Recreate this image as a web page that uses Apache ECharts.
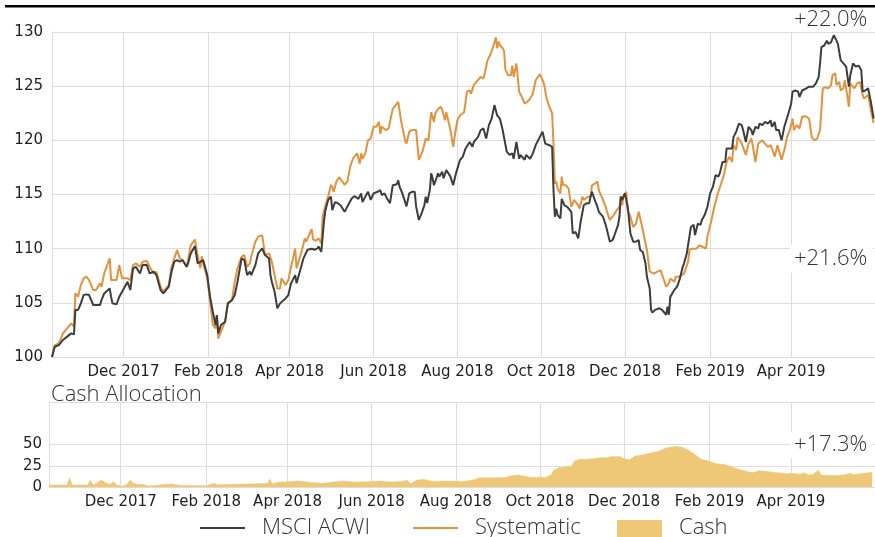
<!DOCTYPE html>
<html>
<head>
<meta charset="utf-8">
<script src="https://cdn.jsdelivr.net/npm/echarts@6/dist/echarts.min.js"></script>
<style>
  html, body { margin: 0; padding: 0; background: #fff; }
  #chart { width: 875px; height: 537px; }
</style>
</head>
<body>
<div id="chart"></div>
<script>
// Index levels (start = 100) for the benchmark and the systematic strategy,
// and the strategy's cash allocation in percent.
const msciSeries = [
  ['2017-10-10',100.0],['2017-10-12',100.95],['2017-10-15',101.1],['2017-10-18',101.57],['2017-10-21',101.88],
  ['2017-10-24',102.18],['2017-10-26',102.09],['2017-10-27',104.34],['2017-10-29',104.34],['2017-10-31',104.95],
  ['2017-11-02',105.72],['2017-11-04',105.78],['2017-11-06',105.72],['2017-11-09',104.8],['2017-11-11',104.8],
  ['2017-11-14',104.8],['2017-11-15',105.26],['2017-11-17',105.87],['2017-11-21',106.33],['2017-11-22',105.57],
  ['2017-11-23',104.95],['2017-11-26',104.87],['2017-11-28',105.57],['2017-11-30',106.03],['2017-12-04',106.95],
  ['2017-12-06',106.18],['2017-12-08',108.18],['2017-12-10',108.33],['2017-12-13',107.72],['2017-12-15',108.49],
  ['2017-12-18',108.49],['2017-12-20',107.72],['2017-12-23',107.87],['2017-12-25',107.56],['2017-12-28',106.18],
  ['2017-12-30',105.87],['2018-01-03',106.49],['2018-01-05',107.87],['2018-01-07',108.79],['2018-01-09',108.95],
  ['2018-01-11',108.79],['2018-01-13',108.95],['2018-01-16',108.33],['2018-01-17',108.64],['2018-01-19',109.56],
  ['2018-01-21',110.02],['2018-01-22',110.24],['2018-01-24',108.64],['2018-01-26',108.79],['2018-01-28',108.95],
  ['2018-01-31',107.56],['2018-02-02',105.6],['2018-02-04',104.2],['2018-02-06',102.95],['2018-02-07',103.87],
  ['2018-02-08',102.18],['2018-02-09',102.18],['2018-02-10',102.95],['2018-02-13',103.26],['2018-02-15',104.95],
  ['2018-02-18',105.26],['2018-02-20',105.72],['2018-02-22',106.95],['2018-02-25',109.1],['2018-02-27',108.95],
  ['2018-03-01',107.56],['2018-03-03',107.87],['2018-03-04',107.56],['2018-03-07',108.49],['2018-03-09',109.56],
  ['2018-03-12',110.02],['2018-03-14',109.41],['2018-03-17',109.1],['2018-03-18',107.56],['2018-03-19',106.95],
  ['2018-03-21',106.03],['2018-03-23',104.49],['2018-03-25',104.95],['2018-03-26',105.1],['2018-03-29',105.41],
  ['2018-03-31',105.72],['2018-04-02',106.8],['2018-04-05',107.56],['2018-04-06',106.8],['2018-04-07',106.95],
  ['2018-04-11',109.1],['2018-04-12',109.25],['2018-04-14',109.9],['2018-04-17',110.0],['2018-04-19',109.9],
  ['2018-04-21',110.0],['2018-04-22',110.2],['2018-04-24',109.7],['2018-04-26',112.6],['2018-04-27',113.55],
  ['2018-04-29',114.5],['2018-05-01',114.8],['2018-05-02',113.55],['2018-05-04',114.3],['2018-05-06',114.2],
  ['2018-05-08',114.0],['2018-05-11',113.4],['2018-05-13',113.9],['2018-05-16',114.6],['2018-05-18',114.85],
  ['2018-05-21',114.6],['2018-05-23',115.1],['2018-05-24',114.3],['2018-05-26',114.8],['2018-05-28',115.25],
  ['2018-05-30',114.5],['2018-06-01',115.1],['2018-06-04',115.25],['2018-06-06',115.4],['2018-06-07',114.95],
  ['2018-06-09',115.1],['2018-06-11',114.6],['2018-06-13',114.2],['2018-06-15',115.85],['2018-06-18',115.95],
  ['2018-06-19',116.3],['2018-06-20',115.7],['2018-06-22',115.1],['2018-06-25',113.9],['2018-06-27',115.1],
  ['2018-06-29',115.25],['2018-07-01',115.25],['2018-07-02',113.9],['2018-07-04',112.65],['2018-07-06',113.25],
  ['2018-07-08',114.0],['2018-07-09',114.8],['2018-07-10',114.2],['2018-07-12',115.4],['2018-07-13',116.95],
  ['2018-07-14',116.5],['2018-07-15',115.85],['2018-07-18',116.95],['2018-07-19',116.65],['2018-07-21',117.1],
  ['2018-07-22',116.5],['2018-07-24',117.25],['2018-07-27',116.65],['2018-07-29',115.85],['2018-07-31',116.95],
  ['2018-08-03',118.2],['2018-08-05',118.5],['2018-08-06',118.5],['2018-08-07',119.25],['2018-08-10',119.85],
  ['2018-08-12',119.4],['2018-08-13',119.85],['2018-08-16',120.3],['2018-08-18',120.95],['2018-08-20',121.1],
  ['2018-08-22',120.17],['2018-08-24',121.4],['2018-08-26',122.0],['2018-08-28',123.25],['2018-08-29',123.3],
  ['2018-08-30',122.3],['2018-09-01',122.0],['2018-09-03',120.95],['2018-09-06',118.95],['2018-09-08',118.65],
  ['2018-09-10',118.8],['2018-09-11',118.3],['2018-09-13',119.85],['2018-09-15',118.3],['2018-09-16',118.65],
  ['2018-09-19',118.2],['2018-09-20',118.65],['2018-09-23',118.3],['2018-09-25',118.8],['2018-09-27',119.55],
  ['2018-09-30',120.3],['2018-10-02',120.8],['2018-10-03',120.95],['2018-10-04',119.7],['2018-10-07',119.55],
  ['2018-10-09',119.4],['2018-10-10',115.4],['2018-10-11',112.95],['2018-10-12',113.7],['2018-10-13',113.1],
  ['2018-10-15',112.8],['2018-10-16',114.6],['2018-10-18',114.0],['2018-10-20',113.85],['2018-10-23',113.4],
  ['2018-10-24',111.4],['2018-10-26',111.55],['2018-10-28',110.95],['2018-10-29',110.8],['2018-10-30',112.65],
  ['2018-11-01',114.0],['2018-11-03',114.2],['2018-11-05',114.2],['2018-11-06',114.8],['2018-11-07',115.25],
  ['2018-11-09',114.5],['2018-11-11',113.85],['2018-11-12',113.4],['2018-11-15',112.95],['2018-11-17',112.2],
  ['2018-11-18',111.7],['2018-11-20',110.65],['2018-11-22',110.8],['2018-11-23',111.1],['2018-11-26',112.2],
  ['2018-11-27',112.95],['2018-11-28',114.8],['2018-11-29',114.5],['2018-12-01',115.1],['2018-12-02',115.25],
  ['2018-12-03',113.85],['2018-12-04',112.65],['2018-12-05',111.4],['2018-12-07',110.65],['2018-12-09',110.65],
  ['2018-12-11',110.8],['2018-12-12',109.9],['2018-12-14',109.7],['2018-12-16',108.6],['2018-12-17',107.4],
  ['2018-12-19',106.35],['2018-12-20',104.35],['2018-12-21',104.1],['2018-12-23',104.35],['2018-12-26',104.5],
  ['2018-12-28',104.35],['2018-12-31',103.9],['2019-01-01',104.65],['2019-01-02',103.9],['2019-01-03',105.55],
  ['2019-01-06',106.2],['2019-01-08',106.5],['2019-01-10',107.25],['2019-01-12',108.3],['2019-01-13',108.65],
  ['2019-01-15',109.55],['2019-01-16',109.7],['2019-01-18',112.0],['2019-01-20',112.2],['2019-01-21',111.25],
  ['2019-01-23',112.3],['2019-01-25',112.2],['2019-01-26',112.65],['2019-01-28',113.1],['2019-01-30',113.85],
  ['2019-02-01',115.1],['2019-02-03',115.7],['2019-02-05',116.8],['2019-02-07',116.65],['2019-02-08',116.95],
  ['2019-02-10',118.0],['2019-02-12',118.0],['2019-02-13',119.25],['2019-02-15',119.25],['2019-02-17',119.25],
  ['2019-02-18',120.3],['2019-02-20',120.8],['2019-02-22',121.55],['2019-02-24',121.4],['2019-02-25',120.95],
  ['2019-02-27',119.85],['2019-03-01',121.25],['2019-03-03',120.95],['2019-03-04',120.5],['2019-03-06',121.25],
  ['2019-03-08',121.1],['2019-03-09',121.55],['2019-03-11',121.4],['2019-03-13',121.7],['2019-03-15',121.55],
  ['2019-03-17',121.85],['2019-03-18',121.25],['2019-03-20',121.7],['2019-03-21',120.95],['2019-03-23',120.95],
  ['2019-03-25',120.0],['2019-03-27',121.25],['2019-03-30',122.5],['2019-04-01',123.4],['2019-04-02',124.5],
  ['2019-04-04',124.6],['2019-04-06',124.5],['2019-04-07',124.0],['2019-04-09',124.6],['2019-04-12',124.8],
  ['2019-04-14',124.95],['2019-04-15',124.8],['2019-04-17',124.95],['2019-04-19',125.25],['2019-04-21',125.85],
  ['2019-04-22',127.1],['2019-04-23',128.6],['2019-04-25',128.75],['2019-04-27',129.2],['2019-04-28',128.9],
  ['2019-04-30',129.05],['2019-05-01',128.9],['2019-05-02',129.7],['2019-05-04',129.2],['2019-05-05',128.9],
  ['2019-05-07',127.4],['2019-05-09',127.1],['2019-05-11',126.8],['2019-05-13',124.95],['2019-05-14',126.0],
  ['2019-05-16',127.1],['2019-05-18',126.8],['2019-05-20',126.9],['2019-05-22',126.5],['2019-05-23',124.5],
  ['2019-05-25',124.6],['2019-05-27',124.8],['2019-05-29',123.55],['2019-05-31',122.0]
];

const systematicSeries = [
  ['2017-10-10',100.0],['2017-10-12',101.1],['2017-10-15',101.26],['2017-10-18',102.18],['2017-10-21',102.64],
  ['2017-10-24',103.1],['2017-10-26',102.8],['2017-10-27',105.87],['2017-10-29',105.57],['2017-10-31',106.64],
  ['2017-11-02',107.26],['2017-11-04',107.41],['2017-11-06',107.1],['2017-11-09',106.18],['2017-11-11',106.18],
  ['2017-11-14',106.8],['2017-11-15',106.49],['2017-11-17',107.72],['2017-11-21',109.1],['2017-11-22',107.1],
  ['2017-11-23',107.1],['2017-11-26',107.1],['2017-11-28',108.49],['2017-11-30',107.26],['2017-12-04',107.26],
  ['2017-12-06',107.1],['2017-12-08',108.49],['2017-12-10',108.64],['2017-12-13',108.33],['2017-12-15',108.79],
  ['2017-12-18',108.86],['2017-12-20',108.33],['2017-12-23',107.72],['2017-12-25',107.87],['2017-12-28',106.49],
  ['2017-12-30',106.03],['2018-01-03',106.64],['2018-01-05',108.33],['2018-01-07',109.1],['2018-01-09',109.87],
  ['2018-01-11',109.1],['2018-01-13',108.95],['2018-01-16',108.33],['2018-01-17',108.95],['2018-01-19',110.33],
  ['2018-01-21',110.64],['2018-01-22',110.85],['2018-01-24',109.41],['2018-01-26',108.2],['2018-01-27',109.3],
  ['2018-01-28',108.64],['2018-01-31',107.26],['2018-02-02',105.2],['2018-02-04',103.0],['2018-02-06',102.64],
  ['2018-02-07',103.87],['2018-02-08',101.72],['2018-02-09',101.88],['2018-02-10',102.34],['2018-02-13',103.26],
  ['2018-02-15',104.95],['2018-02-18',105.26],['2018-02-20',106.95],['2018-02-22',108.18],['2018-02-25',109.26],
  ['2018-02-27',109.41],['2018-03-01',108.33],['2018-03-03',108.64],['2018-03-04',109.26],['2018-03-07',110.64],
  ['2018-03-09',111.1],['2018-03-12',111.25],['2018-03-14',109.41],['2018-03-17',109.56],['2018-03-18',109.41],
  ['2018-03-19',108.79],['2018-03-21',107.56],['2018-03-23',106.33],['2018-03-25',106.33],['2018-03-26',107.26],
  ['2018-03-29',106.64],['2018-03-31',107.1],['2018-04-02',108.33],['2018-04-05',110.02],['2018-04-06',108.18],
  ['2018-04-07',108.33],['2018-04-10',109.9],['2018-04-12',110.95],['2018-04-13',110.64],['2018-04-15',111.25],
  ['2018-04-17',111.8],['2018-04-18',110.85],['2018-04-20',110.73],['2018-04-22',110.95],['2018-04-24',110.5],
  ['2018-04-25',112.95],['2018-04-27',114.0],['2018-04-29',114.8],['2018-05-01',115.9],['2018-05-02',115.7],
  ['2018-05-03',115.25],['2018-05-05',116.2],['2018-05-07',116.6],['2018-05-08',116.5],['2018-05-11',115.9],
  ['2018-05-13',116.2],['2018-05-15',117.55],['2018-05-17',118.3],['2018-05-20',118.8],['2018-05-21',118.95],
  ['2018-05-22',117.85],['2018-05-23',118.8],['2018-05-24',118.3],['2018-05-26',118.8],['2018-05-28',120.0],
  ['2018-05-30',120.17],['2018-06-01',121.25],['2018-06-03',121.25],['2018-06-05',121.7],['2018-06-06',120.6],
  ['2018-06-07',121.25],['2018-06-10',120.95],['2018-06-12',121.1],['2018-06-15',122.9],['2018-06-19',123.55],
  ['2018-06-21',121.85],['2018-06-24',120.0],['2018-06-25',119.7],['2018-06-27',120.8],['2018-06-29',120.95],
  ['2018-07-02',120.95],['2018-07-03',119.55],['2018-07-04',118.2],['2018-07-07',119.1],['2018-07-09',120.17],
  ['2018-07-11',120.0],['2018-07-13',122.6],['2018-07-15',121.7],['2018-07-16',122.5],['2018-07-18',122.9],
  ['2018-07-20',123.1],['2018-07-21',122.8],['2018-07-23',121.85],['2018-07-24',122.6],['2018-07-27',120.95],
  ['2018-07-29',119.4],['2018-07-30',120.3],['2018-08-01',121.85],['2018-08-03',122.3],['2018-08-06',122.6],
  ['2018-08-08',124.5],['2018-08-10',124.6],['2018-08-11',124.3],['2018-08-13',125.1],['2018-08-16',125.55],
  ['2018-08-18',125.85],['2018-08-20',125.7],['2018-08-21',126.2],['2018-08-23',127.4],['2018-08-25',127.9],
  ['2018-08-27',128.6],['2018-08-29',129.5],['2018-08-30',128.5],['2018-08-31',129.1],['2018-09-01',128.8],
  ['2018-09-03',128.5],['2018-09-04',128.3],['2018-09-05',126.5],['2018-09-07',126.0],['2018-09-09',126.0],
  ['2018-09-10',126.9],['2018-09-11',125.85],['2018-09-13',127.1],['2018-09-14',125.85],['2018-09-15',124.5],
  ['2018-09-17',124.0],['2018-09-19',123.4],['2018-09-21',123.55],['2018-09-23',123.85],['2018-09-25',124.3],
  ['2018-09-27',125.55],['2018-09-30',126.1],['2018-10-01',125.85],['2018-10-02',125.7],['2018-10-03',125.25],
  ['2018-10-05',123.85],['2018-10-07',123.1],['2018-10-09',122.5],['2018-10-10',119.7],['2018-10-11',116.0],
  ['2018-10-12',116.2],['2018-10-13',115.55],['2018-10-15',115.1],['2018-10-16',116.65],['2018-10-17',115.85],
  ['2018-10-19',115.85],['2018-10-21',115.55],['2018-10-23',113.85],['2018-10-25',114.5],['2018-10-28',114.0],
  ['2018-10-29',113.7],['2018-10-31',114.8],['2018-11-01',114.5],['2018-11-04',114.8],['2018-11-06',114.8],
  ['2018-11-07',115.85],['2018-11-09',116.0],['2018-11-11',116.2],['2018-11-12',115.4],['2018-11-15',114.5],
  ['2018-11-17',113.85],['2018-11-18',113.4],['2018-11-20',112.65],['2018-11-22',112.95],['2018-11-25',113.55],
  ['2018-11-27',113.85],['2018-11-28',114.8],['2018-11-29',114.0],['2018-11-30',114.95],['2018-12-01',115.1],
  ['2018-12-02',115.25],['2018-12-03',113.55],['2018-12-05',112.95],['2018-12-07',112.0],['2018-12-09',112.3],
  ['2018-12-11',113.4],['2018-12-13',112.3],['2018-12-15',111.1],['2018-12-17',109.9],['2018-12-19',107.9],
  ['2018-12-22',107.7],['2018-12-25',107.9],['2018-12-27',108.0],['2018-12-29',107.25],['2018-12-31',106.5],
  ['2019-01-02',106.8],['2019-01-03',107.25],['2019-01-06',106.95],['2019-01-07',107.4],['2019-01-09',107.4],
  ['2019-01-11',107.55],['2019-01-13',107.7],['2019-01-16',108.8],['2019-01-17',109.9],['2019-01-19',110.0],
  ['2019-01-22',110.0],['2019-01-24',110.3],['2019-01-26',110.2],['2019-01-29',110.0],['2019-01-30',111.1],
  ['2019-02-02',112.65],['2019-02-04',113.85],['2019-02-07',115.25],['2019-02-09',116.0],['2019-02-11',116.8],
  ['2019-02-13',118.0],['2019-02-14',117.9],['2019-02-15',118.5],['2019-02-17',118.0],['2019-02-18',119.55],
  ['2019-02-20',119.1],['2019-02-21',120.3],['2019-02-24',119.7],['2019-02-25',119.55],['2019-02-27',118.65],
  ['2019-03-01',119.7],['2019-03-03',120.17],['2019-03-04',119.55],['2019-03-06',118.0],['2019-03-08',119.7],
  ['2019-03-11',120.0],['2019-03-12',119.85],['2019-03-15',119.4],['2019-03-17',119.55],['2019-03-18',119.25],
  ['2019-03-20',118.5],['2019-03-22',119.55],['2019-03-23',119.1],['2019-03-25',118.2],['2019-03-27',119.1],
  ['2019-03-29',120.3],['2019-03-31',120.95],['2019-04-02',122.0],['2019-04-03',120.95],['2019-04-05',121.4],
  ['2019-04-07',121.1],['2019-04-09',122.2],['2019-04-12',122.2],['2019-04-14',122.0],['2019-04-16',120.3],
  ['2019-04-18',120.0],['2019-04-20',120.17],['2019-04-22',120.95],['2019-04-24',124.8],['2019-04-26',124.9],
  ['2019-04-28',124.8],['2019-04-30',125.1],['2019-05-01',126.0],['2019-05-03',126.2],['2019-05-04',125.1],
  ['2019-05-06',125.4],['2019-05-07',124.6],['2019-05-09',124.8],['2019-05-10',125.55],['2019-05-11',124.8],
  ['2019-05-13',123.1],['2019-05-14',125.25],['2019-05-17',124.8],['2019-05-19',125.25],['2019-05-21',125.4],
  ['2019-05-23',124.2],['2019-05-24',123.85],['2019-05-27',124.2],['2019-05-29',122.8],['2019-05-31',121.6]
];

const cashSeries = [
  ['2017-10-10',2.3],['2017-10-23',2.3],['2017-10-25',10.9],['2017-10-27',2.3],['2017-11-07',2.3],
  ['2017-11-09',8.1],['2017-11-11',2.3],['2017-11-17',8.1],['2017-11-20',5.0],['2017-11-23',3.1],
  ['2017-11-26',6.2],['2017-11-28',2.3],['2017-12-02',1.2],['2017-12-05',2.3],['2017-12-08',8.1],
  ['2017-12-10',4.3],['2017-12-13',3.1],['2017-12-17',3.1],['2017-12-21',1.2],['2017-12-25',1.6],
  ['2018-01-01',3.1],['2018-01-07',3.5],['2018-01-13',1.9],['2018-02-01',1.6],['2018-02-07',4.3],
  ['2018-02-09',2.7],['2018-02-20',3.1],['2018-03-11',3.9],['2018-03-18',4.3],['2018-03-19',9.7],
  ['2018-03-21',3.9],['2018-03-26',5.8],['2018-04-03',6.2],['2018-04-09',7.0],['2018-04-18',5.4],
  ['2018-04-26',4.3],['2018-05-04',5.8],['2018-05-11',7.0],['2018-05-18',5.8],['2018-05-30',6.2],
  ['2018-06-07',7.0],['2018-06-15',5.8],['2018-06-22',6.6],['2018-06-27',7.75],['2018-06-29',3.9],
  ['2018-07-04',8.1],['2018-07-09',8.9],['2018-07-15',6.6],['2018-07-26',7.0],['2018-08-07',6.6],
  ['2018-08-15',8.9],['2018-08-18',10.9],['2018-08-24',10.9],['2018-08-30',10.9],['2018-09-06',11.2],
  ['2018-09-10',13.2],['2018-09-16',14.0],['2018-09-19',12.8],['2018-09-25',11.2],['2018-10-02',11.6],
  ['2018-10-05',11.2],['2018-10-09',14.0],['2018-10-11',19.8],['2018-10-15',22.9],['2018-10-20',23.6],
  ['2018-10-24',24.8],['2018-10-26',30.6],['2018-10-30',32.6],['2018-11-05',32.6],['2018-11-08',33.3],
  ['2018-11-14',34.5],['2018-11-18',34.5],['2018-11-22',36.0],['2018-11-28',36.0],['2018-12-01',33.3],
  ['2018-12-05',32.2],['2018-12-09',36.4],['2018-12-15',38.0],['2018-12-20',39.9],['2018-12-26',42.2],
  ['2019-01-01',46.1],['2019-01-07',47.7],['2019-01-08',48.8],['2019-01-12',46.9],['2019-01-16',44.2],
  ['2019-01-20',39.9],['2019-01-26',32.6],['2019-02-01',30.2],['2019-02-06',27.5],['2019-02-12',26.4],
  ['2019-02-17',23.6],['2019-02-23',20.5],['2019-03-01',17.8],['2019-03-05',17.1],['2019-03-09',19.0],
  ['2019-03-14',18.6],['2019-03-20',17.1],['2019-03-28',15.9],['2019-04-02',15.9],['2019-04-08',15.1],
  ['2019-04-10',16.7],['2019-04-14',14.0],['2019-04-17',14.8],['2019-04-21',19.8],['2019-04-23',14.0],
  ['2019-05-01',13.6],['2019-05-09',14.0],['2019-05-14',16.3],['2019-05-16',14.3],['2019-05-22',15.9],
  ['2019-05-30',17.3]
];

const dateRange = ['2017-10-10', '2019-06-01'];
const monthTicks = ['2017-12-01','2018-02-01','2018-04-01','2018-06-01','2018-08-01',
                    '2018-10-01','2018-12-01','2019-02-01','2019-04-01'];
const indexTicks = [100, 105, 110, 115, 120, 125, 130];
const cashTicks = [0, 25, 50];
const cashAxisMax = 100;

const COLORS = { msci: '#3d3d3d', sys: '#e3923d', cash: '#efc877', grid: '#dddddd', text: '#333333', tick: '#1e1e1e' };
const TICK_FONT = 'DejaVu Sans';
const LABEL_FONT = '300 22px "Open Sans", "Noto Sans", sans-serif';

const chart = echarts.init(document.getElementById('chart'), null, { renderer: 'canvas' });

const ts = d => echarts.time.parse(d).getTime();
const MONTHS = ['Jan','Feb','Mar','Apr','May','Jun','Jul','Aug','Sep','Oct','Nov','Dec'];
const fmtMonth = v => { const d = new Date(v); return MONTHS[d.getMonth()] + ' ' + d.getFullYear(); };
const lastOf = s => s[s.length - 1][1];
const pctLabel = (v, base) => (v - base >= 0 ? '+' : '') + (v - base).toFixed(1) + '%';

// Month gridlines and their date labels, drawn as vertical marker lines
function monthLines() {
  return {
    silent: true, symbol: 'none', z: 1, animation: false,
    lineStyle: { color: COLORS.grid, width: 1, type: 'solid' },
    label: {
      show: true, position: 'start', distance: 8, formatter: p => fmtMonth(p.value),
      fontFamily: TICK_FONT, fontSize: 15, color: COLORS.tick
    },
    emphasis: { disabled: true },
    data: monthTicks.map(d => ({ xAxis: ts(d) }))
  };
}

function timeAxis(gridIndex) {
  return {
    type: 'time', gridIndex,
    min: ts(dateRange[0]), max: ts(dateRange[1]),
    axisLine: { show: true, lineStyle: { color: COLORS.grid, width: 1 } },
    axisTick: { show: false },
    axisLabel: { show: false },
    splitLine: { show: false }
  };
}

const option = {
  backgroundColor: '#ffffff',
  animation: false,
  grid: [
    { left: 52, right: 0, top: 32, height: 325 },
    { left: 49, right: 0, top: 402, height: 85 }
  ],
  xAxis: [timeAxis(0), timeAxis(1)],
  yAxis: [
    {
      type: 'value', gridIndex: 0,
      min: indexTicks[0], max: indexTicks[indexTicks.length - 1], interval: indexTicks[1] - indexTicks[0],
      axisLine: { show: true, lineStyle: { color: COLORS.grid } },
      axisTick: { show: false },
      axisLabel: { fontFamily: TICK_FONT, fontSize: 15, color: COLORS.tick, margin: 9 },
      splitLine: { show: true, lineStyle: { color: COLORS.grid, width: 1 } }
    },
    {
      type: 'value', gridIndex: 1,
      min: 0, max: cashAxisMax, interval: cashTicks[1] - cashTicks[0],
      axisLine: { show: true, lineStyle: { color: COLORS.grid } },
      axisTick: { show: false },
      axisLabel: {
        fontFamily: TICK_FONT, fontSize: 15, color: COLORS.tick, margin: 7,
        formatter: v => (cashTicks.indexOf(v) >= 0 ? String(v) : '')
      },
      splitLine: {
        show: true,
        lineStyle: { color: [0, 25, 50, 75, 100].map(v => (v === 75 ? 'rgba(0,0,0,0)' : COLORS.grid)), width: 1 }
      }
    }
  ],
  series: [
    {
      name: 'MSCI ACWI', type: 'line', xAxisIndex: 0, yAxisIndex: 0,
      data: msciSeries.map(p => [ts(p[0]), p[1]]),
      showSymbol: false, symbol: 'none', z: 4,
      lineStyle: { color: COLORS.msci, width: 2 }
    },
    {
      name: 'Systematic', type: 'line', xAxisIndex: 0, yAxisIndex: 0,
      data: systematicSeries.map(p => [ts(p[0]), p[1]]),
      showSymbol: false, symbol: 'none', z: 3,
      lineStyle: { color: COLORS.sys, width: 2 },
      markLine: monthLines()
    },
    {
      name: 'Cash', type: 'line', xAxisIndex: 1, yAxisIndex: 1,
      data: cashSeries.map(p => [ts(p[0]), p[1]]),
      showSymbol: false, symbol: 'none', z: 3,
      lineStyle: { color: COLORS.cash, width: 0.5 },
      areaStyle: { color: COLORS.cash, opacity: 1 },
      markLine: monthLines()
    }
  ],
  graphic: [
    // rule along the top edge
    { type: 'rect', shape: { x: 5, y: 5, width: 870, height: 2.5 }, style: { fill: '#000' }, z: 10 },
    // end-of-period returns
    { type: 'text', x: 794, y: 20, z: 10,
      style: { text: pctLabel(lastOf(msciSeries), 100), font: LABEL_FONT, fill: COLORS.text, verticalAlign: 'middle' } },
    { type: 'text', x: 790, y: 259, z: 10,
      style: { text: pctLabel(lastOf(systematicSeries), 100), font: LABEL_FONT, fill: COLORS.text, verticalAlign: 'middle',
               backgroundColor: '#fff', padding: [3, 6, 3, 4] } },
    { type: 'text', x: 790, y: 445, z: 10,
      style: { text: pctLabel(lastOf(cashSeries), 0), font: LABEL_FONT, fill: COLORS.text, verticalAlign: 'middle',
               backgroundColor: '#fff', padding: [2, 6, 2, 4] } },
    // subplot title
    { type: 'text', x: 51, y: 395, z: 10,
      style: { text: 'Cash Allocation', font: LABEL_FONT, fill: COLORS.text, verticalAlign: 'middle' } },
    // legend
    { type: 'line', shape: { x1: 200, y1: 528, x2: 245, y2: 528 }, style: { stroke: COLORS.msci, lineWidth: 2 } },
    { type: 'text', x: 262, y: 528, style: { text: 'MSCI ACWI', font: LABEL_FONT, fill: COLORS.text, verticalAlign: 'middle' } },
    { type: 'line', shape: { x1: 413, y1: 528, x2: 458, y2: 528 }, style: { stroke: COLORS.sys, lineWidth: 2 } },
    { type: 'text', x: 475, y: 528, style: { text: 'Systematic', font: LABEL_FONT, fill: COLORS.text, verticalAlign: 'middle' } },
    { type: 'rect', shape: { x: 617, y: 520, width: 45, height: 20 }, style: { fill: COLORS.cash } },
    { type: 'text', x: 679, y: 528, style: { text: 'Cash', font: LABEL_FONT, fill: COLORS.text, verticalAlign: 'middle' } }
  ]
};

chart.setOption(option);
</script>
</body>
</html>
